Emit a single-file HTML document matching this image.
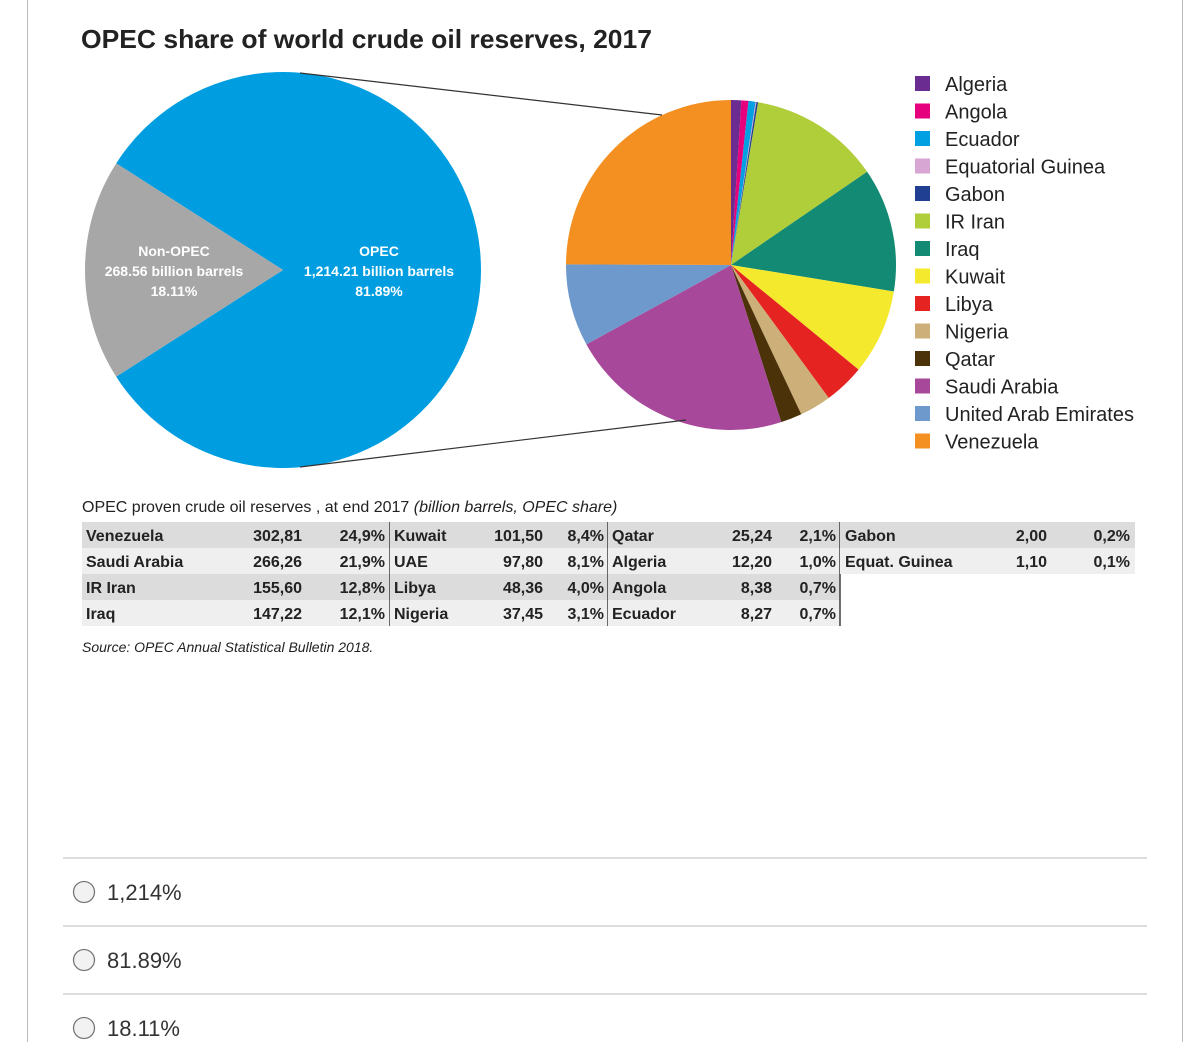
<!DOCTYPE html>
<html><head><meta charset="utf-8"><style>
body{margin:0;background:#fff;width:1200px;height:1042px;overflow:hidden;font-family:"Liberation Sans",sans-serif}
svg{display:block}
.tb{font-family:"Liberation Sans Narrow","Liberation Sans",sans-serif;font-weight:bold;font-size:16px;fill:#222}
</style></head><body>
<svg id="chart" width="1200" height="1042">
<line x1="27.5" y1="0" x2="27.5" y2="1042" stroke="#bbb"/>
<line x1="1182.5" y1="0" x2="1182.5" y2="1042" stroke="#bbb"/>
<text x="81" y="48" font-size="26" font-weight="bold" fill="#222" textLength="571" lengthAdjust="spacingAndGlyphs">OPEC share of world crude oil reserves, 2017</text>
<g id="big"></g>
<g id="small"></g>
<g id="legend"></g>
<text x="82" y="512" font-size="16" fill="#222">OPEC proven crude oil reserves , at end 2017 <tspan font-style="italic">(billion barrels, OPEC share)</tspan></text>
<g id="table"></g>
<text x="82" y="652" font-size="14" font-style="italic" fill="#222">Source: OPEC Annual Statistical Bulletin 2018.</text>
<g id="opts"></g>
</svg>
<script>
const NS="http://www.w3.org/2000/svg";
const bigLabels=["OPEC","Non-OPEC"];
const bigValues=[1214.21,268.56];
const bigPct=["81.89%","18.11%"];
const countries=["Algeria","Angola","Ecuador","Equatorial Guinea","Gabon","IR Iran","Iraq","Kuwait","Libya","Nigeria","Qatar","Saudi Arabia","United Arab Emirates","Venezuela"];
const reserves=[12.20,8.38,8.27,1.10,2.00,155.60,147.22,101.50,48.36,37.45,25.24,266.26,97.80,302.81];
const colors=["#6a2c91","#e6007e","#00a0e3","#d7a6d3","#203f93","#b0cd3a","#138a73","#f5e92e","#e52421","#cdaf7a","#4b3208","#a8489a","#6e99cc","#f39021"];
const tableCols=[
 [["Venezuela","302,81","24,9%"],["Saudi Arabia","266,26","21,9%"],["IR Iran","155,60","12,8%"],["Iraq","147,22","12,1%"]],
 [["Kuwait","101,50","8,4%"],["UAE","97,80","8,1%"],["Libya","48,36","4,0%"],["Nigeria","37,45","3,1%"]],
 [["Qatar","25,24","2,1%"],["Algeria","12,20","1,0%"],["Angola","8,38","0,7%"],["Ecuador","8,27","0,7%"]],
 [["Gabon","2,00","0,2%"],["Equat. Guinea","1,10","0,1%"]]];
const options=["1,214%","81.89%","18.11%"];
function mk(t,a,p){const e=document.createElementNS(NS,t);for(const k in a)e.setAttribute(k,a[k]);p.appendChild(e);return e;}
function pt(cx,cy,r,a){return [cx+r*Math.sin(a),cy-r*Math.cos(a)];}
function arc(cx,cy,r,a0,a1){const p0=pt(cx,cy,r,a0),p1=pt(cx,cy,r,a1);return `M${cx},${cy}L${p0[0]},${p0[1]}A${r},${r} 0 ${a1-a0>Math.PI?1:0} 1 ${p1[0]},${p1[1]}Z`;}
const big=document.getElementById('big');
const bcx=283,bcy=270,br=198;
const bt=bigValues[0]+bigValues[1];
const nonA=bigValues[1]/bt*2*Math.PI;
const s0=1.5*Math.PI-nonA/2;
let p=mk('path',{d:arc(bcx,bcy,br,s0+nonA,s0+2*Math.PI),fill:"#009ee0"},big);

p=mk('path',{d:arc(bcx,bcy,br,s0,s0+nonA),fill:"#a8a7a8"},big);

function lbl(x,lines,name){const t=mk('text',{x:x,y:256,'text-anchor':'middle','font-size':14,'font-weight':'bold',fill:'#fff'},big);

lines.forEach((l,i)=>{const s=mk('tspan',{x:x,dy:i?20:0},t);s.textContent=l;});}
lbl(174,[bigLabels[1],bigValues[1].toFixed(2)+" billion barrels",bigPct[1]],'non-opec-label');
lbl(379,[bigLabels[0],bigValues[0].toLocaleString('en-US',{minimumFractionDigits:2})+" billion barrels",bigPct[0]],'opec-label');
const svg=document.getElementById('chart');
let l=mk('line',{x1:300,y1:73,x2:662,y2:115,stroke:'#333','stroke-width':1.2},svg);

l=mk('line',{x1:300,y1:467,x2:686,y2:420,stroke:'#333','stroke-width':1.2},svg);

const sm=document.getElementById('small');
const scx=731,scy=265,sr=165;
const tot=reserves.reduce((a,b)=>a+b,0);
let a=0;
reserves.forEach((v,i)=>{const a1=a+v/tot*2*Math.PI;
const e=mk('path',{d:arc(scx,scy,sr,a,a1),fill:colors[i]},sm);

a=a1;});
const lg=document.getElementById('legend');
countries.forEach((c,i)=>{const y=84+i*27.5;
const g=mk('g',{},lg);
mk('rect',{x:915,y:y-8,width:15,height:15,fill:colors[i]},g);
const t=mk('text',{x:945,y:y+7,'font-size':20,fill:'#222'},g);t.textContent=c;});
const tb=document.getElementById('table');
const colX=[[86,302,385],[394,543,604],[612,772,836],[845,1047,1130]];
const colL=[82,390,608,840],colR=[390,608,840,1135];
const rowY=522,rh=26;
tableCols.forEach((col,ci)=>{col.forEach((r,ri)=>{
 const bg=mk('rect',{x:colL[ci],y:rowY+ri*rh,width:colR[ci]-colL[ci],height:rh,fill:ri%2?'#efefef':'#dcdcdc'},tb);
 
 const y=rowY+ri*rh+19;
 let t=mk('text',{x:colX[ci][0],y:y,class:'tb'},tb);t.textContent=r[0];
 
 t=mk('text',{x:colX[ci][1],y:y,class:'tb','text-anchor':'end','font-weight':'normal'},tb);t.textContent=r[1];
 
 t=mk('text',{x:colX[ci][2],y:y,class:'tb','text-anchor':'end','font-weight':'normal'},tb);t.textContent=r[2];
 
});
 if(ci<3){const d=mk('line',{x1:colR[ci],y1:rowY,x2:colR[ci],y2:rowY+col.length*rh,stroke:'#222','stroke-width':1.3},tb);
 }
});
const op=document.getElementById('opts');
options.forEach((o,i)=>{const y=858+i*68;
const ln=mk('line',{x1:63,y1:y,x2:1147,y2:y,stroke:'#ddd','stroke-width':2},op);

const c=mk('circle',{cx:84,cy:y+34,r:10.5,fill:'#f2f2f2',stroke:'#777','stroke-width':1.3},op);

const t=mk('text',{x:107,y:y+42,'font-size':22,fill:'#333'},op);t.textContent=o;
});
</script>
</body></html>
